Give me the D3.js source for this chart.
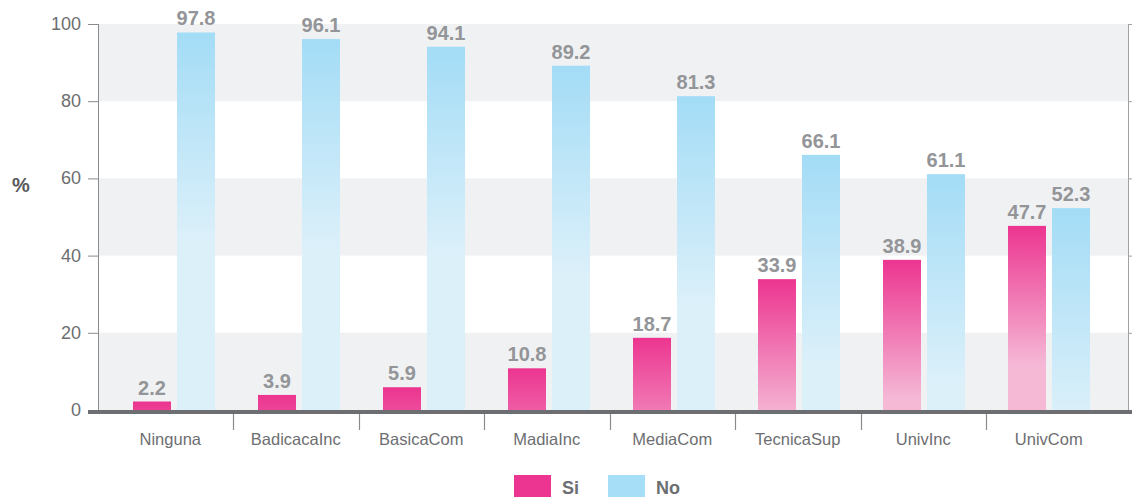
<!DOCTYPE html>
<html><head><meta charset="utf-8">
<script src="https://cdn.jsdelivr.net/npm/d3@7"></script>
<style>body{margin:0;background:#fff;} svg{display:block;font-family:"Liberation Sans",Arial,sans-serif;}</style>
</head><body>
<svg id="c" width="1132" height="497"></svg>
<script>
const categories = ["Ninguna","BadicacaInc","BasicaCom","MadiaInc","MediaCom","TecnicaSup","UnivInc","UnivCom"];
const siValues = [2.2,3.9,5.9,10.8,18.7,33.9,38.9,47.7];
const noValues = [97.8,96.1,94.1,89.2,81.3,66.1,61.1,52.3];
const seriesNames = ["Si","No"];
const yTicks = [0,20,40,60,80,100];

const svg = d3.select("#c");
const x = d3.scaleBand().domain(categories).range([108,1108]).padding(0);
const xAxisBand = d3.scaleBand().domain(categories).range([107.5,1111.5]).padding(0);
const y = d3.scaleLinear().domain([0,100]).range([410,24]);
const inner = d3.scaleBand().domain(seriesNames).range([25,107]).paddingInner(6/44);

// background bands
const bands = [[80,100],[40,60],[0,20]];
svg.selectAll("rect.band").data(bands).enter().append("rect")
  .attr("x",99).attr("width",1029)
  .attr("y",d=>y(d[1])).attr("height",d=>y(d[0])-y(d[1]))
  .attr("fill","#f0f1f3");

const defs = svg.append("defs");
function grad(id, top, bottomY, c1, c2){
  const g = defs.append("linearGradient").attr("id",id).attr("gradientUnits","userSpaceOnUse")
    .attr("x1",0).attr("x2",0).attr("y1",top).attr("y2",bottomY);
  g.append("stop").attr("offset","0").attr("stop-color",c1);
  g.append("stop").attr("offset","1").attr("stop-color",c2);
}

const data = categories.map((c,i)=>({c, si:siValues[i], no:noValues[i], i}));

// left axis
svg.append("line").attr("x1",98.5).attr("x2",98.5).attr("y1",y(100)).attr("y2",410).attr("stroke","#8a8b8d").attr("stroke-width",1);
svg.selectAll("line.yt").data(yTicks).enter().append("line")
  .attr("x1",88).attr("x2",98).attr("y1",d=>y(d)+0.5).attr("y2",d=>y(d)+0.5)
  .attr("stroke","#8a8b8d");
svg.selectAll("text.yl").data(yTicks).enter().append("text")
  .attr("x",81).attr("y",d=>y(d)+6).attr("text-anchor","end")
  .attr("font-size",18).attr("fill","#6d6e71").text(d=>d);
// right axis
svg.append("line").attr("x1",1128.5).attr("x2",1128.5).attr("y1",y(100)).attr("y2",410).attr("stroke","#a0a1a3");
svg.selectAll("line.yr").data(yTicks).enter().append("line")
  .attr("x1",1128).attr("x2",1134).attr("y1",d=>y(d)+0.5).attr("y2",d=>y(d)+0.5)
  .attr("stroke","#a0a1a3");

svg.append("text").attr("x",21).attr("y",192).attr("text-anchor","middle")
  .attr("font-size",20).attr("font-weight","bold").attr("fill","#58595b").text("%");

data.forEach(d=>{
  const ys = y(d.si), yn = y(d.no);
  grad("gs"+d.i, ys, ys+140, "#ec3590", "#f5b9d6");
  grad("gn"+d.i, yn, yn+210, "#a3dcf6", "#dcf0fa");
});
const g = svg.selectAll("g.cat").data(data).enter().append("g").attr("transform",d=>`translate(${x(d.c)},0)`);
g.append("rect").attr("x",inner("Si")).attr("width",inner.bandwidth())
  .attr("y",d=>y(d.si)).attr("height",d=>y(0)-y(d.si)).attr("fill",d=>`url(#gs${d.i})`);
g.append("rect").attr("x",inner("No")).attr("width",inner.bandwidth())
  .attr("y",d=>y(d.no)).attr("height",d=>y(0)-y(d.no)).attr("fill",d=>`url(#gn${d.i})`);
g.append("text").attr("x",inner("Si")+inner.bandwidth()/2).attr("y",d=>y(d.si)-7)
  .attr("text-anchor","middle").attr("font-size",20).attr("font-weight","bold").attr("fill","#939598").text(d=>d.si.toFixed(1));
g.append("text").attr("x",inner("No")+inner.bandwidth()/2).attr("y",d=>y(d.no)-7)
  .attr("text-anchor","middle").attr("font-size",20).attr("font-weight","bold").attr("fill","#939598").text(d=>d.no.toFixed(1));

// baseline
svg.append("rect").attr("x",88).attr("y",410).attr("width",1044).attr("height",4).attr("fill","#6d6e71");
// separators
svg.selectAll("line.sep").data(categories.slice(1)).enter().append("line")
  .attr("x1",d=>Math.round(xAxisBand(d))+0.5).attr("x2",d=>Math.round(xAxisBand(d))+0.5).attr("y1",414).attr("y2",430)
  .attr("stroke","#8a8b8d").attr("stroke-width",1.2);
// x labels
svg.selectAll("text.xl").data(categories).enter().append("text")
  .attr("x",d=>xAxisBand(d)+xAxisBand.bandwidth()/2).attr("y",445).attr("text-anchor","middle")
  .attr("font-size",16.5).attr("fill","#6d6e71").text(d=>d);

// legend
const legendColors = ["#ec3590","#a6def7"];
const lg = svg.selectAll("g.lg").data(seriesNames).enter().append("g")
  .attr("transform",(d,i)=>`translate(${514+i*94},475)`);
lg.append("rect").attr("width",37).attr("height",22).attr("fill",(d,i)=>legendColors[i]);
lg.append("text").attr("x",48).attr("y",19).attr("font-size",18).attr("font-weight","bold").attr("fill","#6d6e71").text(d=>d);
</script>
</body></html>
